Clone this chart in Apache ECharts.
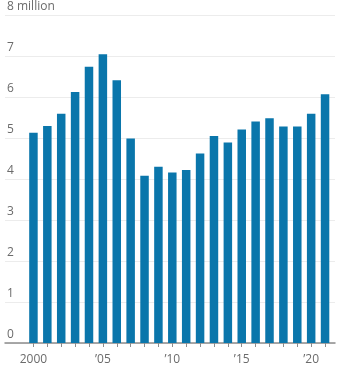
<!DOCTYPE html>
<html>
<head>
<meta charset="utf-8">
<script src="https://cdn.jsdelivr.net/npm/echarts@6/dist/echarts.min.js"></script>
<style>
  html, body { margin: 0; padding: 0; background: #fff; }
  #chart { width: 340px; height: 372px; }
</style>
</head>
<body>
<div id="chart"></div>
<script>
// Annual totals, millions
const years = ['2000','2001','2002','2003','2004','2005','2006','2007','2008','2009','2010',
               '2011','2012','2013','2014','2015','2016','2017','2018','2019','2020','2021'];
const values = [5.13, 5.29, 5.59, 6.12, 6.74, 7.04, 6.41, 4.99, 4.08, 4.30, 4.16,
                4.22, 4.62, 5.05, 4.89, 5.21, 5.40, 5.48, 5.28, 5.28, 5.59, 6.07];
const yTicks = [0, 1, 2, 3, 4, 5, 6, 7, 8];
const yearLabel = (y) => (y === '2000' ? y : '\u2019' + y.slice(2));

const font = "'Open Sans', 'Noto Sans', sans-serif";
const chart = echarts.init(document.getElementById('chart'));

chart.setOption({
  animation: false,
  backgroundColor: '#fff',
  grid: [
    // full-width frame: gridlines, value labels, baseline
    { left: 5, right: 5, top: 15, bottom: 29 },
    // bar area
    { left: 26.5, right: 8, top: 15, bottom: 29 }
  ],
  xAxis: [
    {
      gridIndex: 0, type: 'category', data: [''],
      axisLine: { show: true, lineStyle: { color: '#8c8c8c', width: 1.5 } },
      axisTick: { show: false }, axisLabel: { show: false }, splitLine: { show: false }
    },
    {
      gridIndex: 1, type: 'category', data: years,
      axisLine: { show: false },
      axisTick: { show: true, interval: 0, alignWithLabel: true, length: 4,
                  lineStyle: { color: '#8c8c8c', width: 1 } },
      axisLabel: {
        interval: (i) => i % 5 === 0,
        formatter: yearLabel,
        color: '#6b6b6b', fontFamily: font, fontSize: 12, margin: 11
      }
    }
  ],
  yAxis: [
    {
      gridIndex: 0, type: 'value', min: yTicks[0], max: yTicks[yTicks.length - 1], interval: 1,
      axisLine: { show: false }, axisTick: { show: false },
      splitLine: { show: true, lineStyle: { color: '#ececec', width: 1 } },
      axisLabel: {
        inside: true, margin: 2, verticalAlign: 'bottom',
        padding: [0, 0, 2, 0],
        color: '#6b6b6b', fontFamily: font, fontSize: 12,
        formatter: (v) => (v === 8 ? '8 million' : String(v))
      }
    },
    {
      gridIndex: 1, type: 'value', min: yTicks[0], max: yTicks[yTicks.length - 1], interval: 1,
      show: false, splitLine: { show: false }
    }
  ],
  series: [
    {
      type: 'bar', xAxisIndex: 1, yAxisIndex: 1,
      data: values, barWidth: 8.5,
      itemStyle: { color: '#0a76ab' },
      z: 1
    }
  ]
});
</script>
</body>
</html>
